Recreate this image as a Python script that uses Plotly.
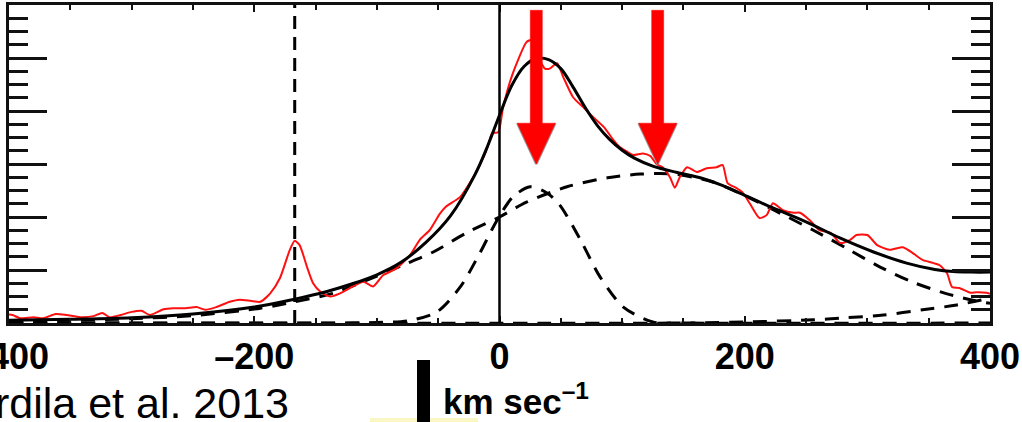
import plotly.graph_objects as go

# ---------------- data ----------------
obs_v = [-400, -397, -391, -380, -372, -362, -353, -342, -331, -324, -318, -309, -300, -292, -285,
         -274, -266, -256, -247, -240, -231, -220, -212, -203, -195, -187, -179, -171, -167, -163,
         -157, -152, -146, -138, -130, -122, -111, -103, -95, -84, -73, -65, -57, -49, -44, -32,
         -24, -17, -10, -6, -1, 3, 11, 22, 26, 30, 37, 41, 47, 52, 60, 68, 76, 85, 93, 98, 103,
         109, 117, 123, 128, 133, 139, 143, 147, 153, 161, 169, 177, 182, 186, 193, 198, 204,
         212, 218, 223, 231, 240, 245, 253, 261, 270, 278, 286, 291, 300, 308, 318, 329, 337,
         345, 354, 359, 365, 369, 375, 384, 389, 397, 400]
obs_y = [0.16, 0.15, 0.09, 0.11, 0.09, 0.17, 0.15, 0.11, 0.13, 0.19, 0.11, 0.15, 0.21, 0.23, 0.15,
         0.26, 0.28, 0.28, 0.30, 0.25, 0.30, 0.40, 0.44, 0.42, 0.40, 0.56, 0.85, 1.38, 1.55, 1.47,
         1.06, 0.75, 0.59, 0.50, 0.56, 0.66, 0.78, 0.69, 0.90, 1.03, 1.28, 1.57, 1.75, 2.05, 2.19, 2.38,
         2.65, 2.94, 3.30, 3.58, 3.60, 4.08, 4.72, 5.30, 5.34, 5.10, 4.80, 4.80, 4.90, 4.64, 4.26, 4.08,
         3.89, 3.70, 3.45, 3.32, 3.25, 3.17, 3.20, 3.15, 3.00, 2.94, 2.75, 2.55, 2.75, 2.94, 2.85,
         2.92, 2.94, 2.98, 2.64, 2.55, 2.47, 2.26, 1.98, 2.04, 2.26, 2.13, 2.08, 2.08, 1.94, 1.75,
         1.70, 1.51, 1.57, 1.66, 1.66, 1.47, 1.38, 1.43, 1.32, 1.19, 1.13, 1.09, 0.94, 0.68, 0.66,
         0.57, 0.58, 0.57, 0.55]

fit_v = [-400, -350, -300, -250, -200, -167, -140, -120, -100, -80, -60, -40, -20, -10, 0, 10, 20,
         30, 40, 50, 60, 70, 80, 90, 100, 110, 125, 145, 165, 180, 196, 223, 250, 278, 305, 332,
         355, 370, 385, 400]
fit_y = [0.05, 0.07, 0.10, 0.17, 0.30, 0.45, 0.60, 0.74, 0.91, 1.15, 1.52, 2.02, 2.80, 3.32, 3.92,
         4.48, 4.84, 4.99, 4.97, 4.80, 4.45, 4.06, 3.72, 3.46, 3.26, 3.11, 2.96, 2.84, 2.73, 2.61,
         2.45, 2.17, 1.91, 1.60, 1.34, 1.13, 1.01, 0.97, 0.96, 0.96]

broad_v = [-400, -350, -300, -250, -195, -167, -136, -108, -79, -54, -27, 0, 22, 55, 88, 115, 142,
           174, 202, 229, 256, 283, 310, 337, 365, 386, 400]
broad_y = [0.03, 0.05, 0.08, 0.14, 0.28, 0.40, 0.56, 0.81, 1.09, 1.34, 1.70, 2.00, 2.28, 2.57, 2.74,
           2.81, 2.81, 2.66, 2.38, 2.07, 1.75, 1.41, 1.06, 0.77, 0.55, 0.43, 0.37]

narrow_v = [-400, -150, -100, -75, -51, -32, -16, -2, 11, 25, 39, 49, 66, 82, 101, 125, 150, 400]
narrow_y = [0.0, 0.0, 0.01, 0.04, 0.21, 0.68, 1.32, 1.94, 2.38, 2.57, 2.45, 2.23, 1.57, 0.87, 0.30,
            0.02, 0.0, 0.0]

red_wing_v = [-400, 150, 202, 256, 283, 313, 345, 373, 400]
red_wing_y = [0.0, 0.0, 0.02, 0.06, 0.10, 0.15, 0.25, 0.34, 0.47]

zero_line_v = [0]
dashed_line_v = [-167]

arrow_v = [30, 129]
arrow_top = 5.9
arrow_base = 3.77
arrow_tip = 3.0

x_tickvals = [-400, -200, 0, 200, 400]
x_ticktext = ["\u2013400", "\u2013200", "0", "200", "400"]
y_tickvals = [0, 1, 2, 3, 4, 5, 6]

credit_text = "Ardila et al. 2013"

# ---------------- figure ----------------
fig = go.Figure()

dash_pat = "14px,10px"

for xs, ys in [(narrow_v, narrow_y), (red_wing_v, red_wing_y), (broad_v, broad_y)]:
    fig.add_trace(go.Scatter(x=xs, y=ys, mode="lines",
                             line=dict(color="black", width=3, dash=dash_pat, shape="spline", smoothing=0.8)))
fig.add_trace(go.Scatter(x=obs_v, y=obs_y, mode="lines",
                         line=dict(color="#ff1010", width=2, shape="spline", smoothing=0.6)))
fig.add_trace(go.Scatter(x=fit_v, y=fit_y, mode="lines",
                         line=dict(color="black", width=3, shape="spline", smoothing=1)))

# red arrows
shaft_hw = 4.9
head_hw = 15.5
for av in arrow_v:
    fig.add_trace(go.Scatter(x=[av - head_hw, av, av + head_hw], y=[arrow_base, arrow_tip, arrow_base],
                             mode="lines", line=dict(color="#9a9a9a", width=2.5)))
    fig.add_trace(go.Scatter(
        x=[av - shaft_hw, av + shaft_hw, av + shaft_hw, av + head_hw, av, av - head_hw, av - shaft_hw, av - shaft_hw],
        y=[arrow_top, arrow_top, arrow_base, arrow_base, arrow_tip, arrow_base, arrow_base, arrow_top],
        mode="lines", fill="toself", fillcolor="#ff0000", line=dict(color="#ff0000", width=0.5)))

shapes = []
for v in zero_line_v:
    shapes.append(dict(type="line", xref="x", yref="paper", x0=v, x1=v, y0=0, y1=1,
                       line=dict(color="black", width=2.5)))
for v in dashed_line_v:
    shapes.append(dict(type="line", xref="x", yref="paper", x0=v, x1=v, y0=0, y1=1,
                       line=dict(color="black", width=3, dash="13px,8px")))
# faint yellow highlight and black bar below the axis
shapes.append(dict(type="rect", xref="paper", yref="paper",
                   x0=(370 - 9) / 981, x1=(478 - 9) / 981, y0=(323 - 423) / 318, y1=(323 - 418) / 318,
                   fillcolor="#fbf7c4", line=dict(width=0), layer="below"))
shapes.append(dict(type="rect", xref="paper", yref="paper",
                   x0=(417 - 9) / 981, x1=(430 - 9) / 981, y0=(323 - 423) / 318, y1=(323 - 360) / 318,
                   fillcolor="black", line=dict(width=0)))

annotations = [
    dict(text="km sec<sup>\u20131</sup>", xref="paper", yref="paper",
         x=(516 - 9) / 981, y=(323 - 399) / 318, xanchor="center", yanchor="middle",
         showarrow=False, font=dict(family="Liberation Sans", size=35, color="black", weight="bold")),
]

fig.update_layout(
    width=1022, height=422,
    margin=dict(l=9, r=32, t=5, b=99),
    paper_bgcolor="white", plot_bgcolor="white",
    showlegend=False,
    title=dict(text=credit_text, xref="container", yref="container",
               x=289 / 1022, xanchor="right", y=(422 - 403) / 422, yanchor="middle", automargin=False,
               font=dict(family="Liberation Sans", size=43, color="black")),
    shapes=shapes,
    annotations=annotations,
    xaxis=dict(range=[-400, 400], tickvals=x_tickvals, ticktext=x_ticktext,
               ticks="inside", ticklen=7, tickwidth=2, tickcolor="#111",
               minor=dict(dtick=50, ticks="inside", ticklen=5, tickwidth=2, tickcolor="#111"),
               showline=True, linewidth=2.5, linecolor="#111", mirror="ticks",
               showgrid=False, zeroline=False, ticklabeloverflow="allow", automargin=False,
               tickfont=dict(family="Liberation Sans", size=36, color="black", weight="bold")),
    yaxis=dict(range=[0, 6], tickvals=y_tickvals, showticklabels=False, automargin=False,
               ticks="inside", ticklen=38, tickwidth=2.5, tickcolor="#111",
               minor=dict(dtick=0.25, ticks="inside", ticklen=19, tickwidth=2.5, tickcolor="#111"),
               showline=True, linewidth=2.5, linecolor="#111", mirror="ticks",
               showgrid=False, zeroline=False),
)

fig.write_html("out.html")
